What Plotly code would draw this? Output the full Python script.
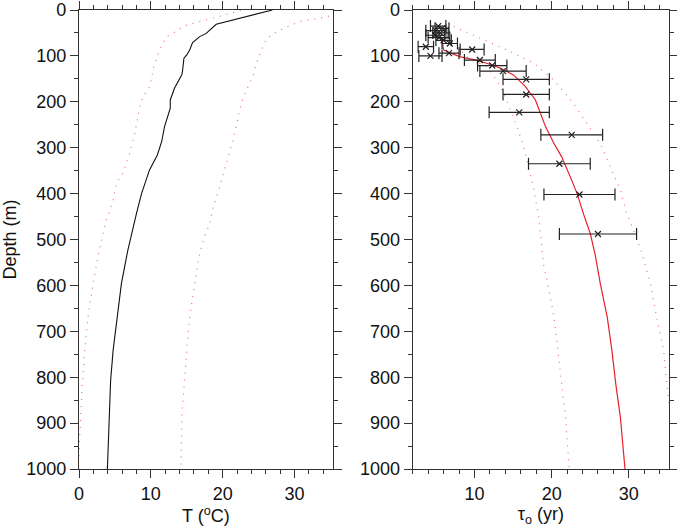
import plotly.graph_objects as go

# ---- Left panel: temperature profile ----
depth_T = [0, 31, 51, 58, 71, 87, 98, 105, 134, 141, 170, 185, 196, 214, 225, 254, 287, 316, 349, 400, 443, 487, 523, 596, 676, 741, 807, 887, 1000]
T_mean = [26.9, 19.1, 17.7, 16.8, 15.8, 15.4, 15.0, 14.6, 14.4, 14.3, 13.3, 12.9, 12.7, 12.7, 12.45, 11.9, 11.5, 10.9, 9.8, 8.7, 8.0, 7.3, 6.8, 5.9, 5.3, 4.75, 4.4, 4.2, 3.95]

depth_TL = [0, 4, 18, 33, 58, 87, 124, 167, 189, 211, 269, 312, 356, 378, 414, 458, 516, 596, 669, 741, 814, 887, 959, 1000]
T_low = [22.5, 21.9, 18.5, 15.0, 12.2, 11.2, 10.4, 9.85, 8.9, 8.45, 7.75, 7.06, 6.1, 5.2, 4.75, 3.8, 2.9, 1.95, 1.25, 0.8, 0.47, 0.2, 0.0, -0.1]

depth_TU = [0, 11, 18, 25, 47, 62, 87, 116, 145, 174, 203, 254, 283, 334, 385, 429, 465, 501, 530, 596, 669, 741, 814, 887, 1000]
T_high = [36.5, 35.4, 33.5, 30.7, 27.5, 26.1, 25.4, 24.7, 24.2, 23.3, 22.6, 21.9, 21.45, 20.5, 19.6, 18.7, 18.2, 17.3, 16.8, 16.1, 15.4, 15.0, 14.6, 14.3, 14.2]

# ---- Right panel: tau_o profile ----
depth_tau = [47, 65, 87, 94, 102, 108, 116, 127, 142, 167, 196, 225, 254, 291, 320, 363, 400, 443, 487, 530, 596, 669, 741, 814, 887, 1000]
tau_fit = [5.3, 5.8, 6.0, 6.9, 8.2, 9.9, 11.6, 13.4, 15.1, 16.6, 17.9, 18.5, 19.2, 20.3, 21.3, 22.4, 23.3, 24.1, 25.0, 25.6, 26.3, 27.2, 27.8, 28.3, 28.9, 29.5]

depth_tauL = [58, 102, 124, 153, 182, 218, 254, 298, 341, 392, 450, 509, 560, 596, 669, 741, 814, 887, 981, 1000]
tau_low = [6.5, 9.05, 11.6, 12.9, 13.8, 14.65, 15.5, 16.4, 17.0, 17.7, 18.3, 18.7, 19.0, 19.5, 20.3, 20.8, 21.3, 21.8, 22.2, 22.3]

depth_tauU = [36, 87, 116, 153, 203, 247, 291, 342, 392, 443, 487, 530, 596, 669, 741, 814, 900, 1000]
tau_high = [7.3, 14.2, 17.7, 20.3, 22.8, 24.6, 26.3, 27.6, 28.9, 29.7, 30.8, 31.7, 32.8, 33.6, 34.5, 34.9, 35.5, 36.0]

obs_depth = [35, 40, 45, 50, 55, 60, 66, 73, 80, 86, 94, 100, 109, 121, 133, 151, 184, 223, 272, 335, 402, 488]
obs_tau = [5.3, 5.8, 5.0, 5.6, 4.9, 5.4, 6.0, 6.8, 3.7, 9.7, 6.7, 4.3, 10.7, 12.3, 13.7, 16.7, 16.7, 15.8, 22.6, 21.0, 23.6, 26.0]
obs_err = [1.0, 0.9, 1.3, 1.0, 1.2, 1.4, 1.0, 1.0, 1.0, 1.55, 1.3, 1.5, 2.0, 1.9, 3.0, 3.0, 3.0, 3.9, 4.0, 4.0, 4.6, 5.0]

x1_ticks = [0, 10, 20, 30]
x2_ticks = [10, 20, 30]
y_ticks = list(range(0, 1001, 100))

DOT = dict(color="rgba(230,80,80,0.8)", width=1.2, dash="1px,6px")
FONT = "Liberation Sans, Arial, sans-serif"
FS = 18

fig = go.Figure()
fig.add_trace(go.Scatter(x=T_low, y=depth_TL, mode="lines", line=DOT, xaxis="x", yaxis="y"))
fig.add_trace(go.Scatter(x=T_high, y=depth_TU, mode="lines", line=DOT, xaxis="x", yaxis="y"))
fig.add_trace(go.Scatter(x=T_mean, y=depth_T, mode="lines", line=dict(color="#111", width=1.1), xaxis="x", yaxis="y"))

fig.add_trace(go.Scatter(x=tau_low, y=depth_tauL, mode="lines", line=DOT, xaxis="x2", yaxis="y2"))
fig.add_trace(go.Scatter(x=tau_high, y=depth_tauU, mode="lines", line=DOT, xaxis="x2", yaxis="y2"))
fig.add_trace(go.Scatter(x=tau_fit, y=depth_tau, mode="lines", line=dict(color="#e8202a", width=1.2), xaxis="x2", yaxis="y2"))
fig.add_trace(go.Scatter(
    x=obs_tau, y=obs_depth, mode="markers",
    marker=dict(symbol="x-thin", size=6, line=dict(color="#222", width=1.2), color="#222"),
    error_x=dict(type="data", array=obs_err, color="#222", thickness=1.2, width=6),
    xaxis="x2", yaxis="y2"))

common_x = dict(showline=True, linecolor="#333", linewidth=1.2, mirror="ticks", ticks="outside",
                ticklen=8, tickwidth=1.2, tickcolor="#333", showgrid=False, zeroline=False, automargin=False,
                minor=dict(dtick=2, ticklen=4, ticks="outside", tickcolor="#333", tickwidth=1.2),
                tickfont=dict(family=FONT, size=FS, color="#111"), title_font=dict(family=FONT, size=FS, color="#111"))
common_y = dict(showline=True, linecolor="#333", linewidth=1.2, mirror="ticks", ticks="outside",
                ticklen=8, tickwidth=1.2, tickcolor="#333", showgrid=False, zeroline=False, automargin=False,
                range=[1000, 0], tickvals=y_ticks,
                minor=dict(dtick=50, ticklen=4, ticks="outside", tickcolor="#333", tickwidth=1.2),
                tickfont=dict(family=FONT, size=FS, color="#111"), title_font=dict(family=FONT, size=FS, color="#111"))

fig.update_layout(
    width=677, height=530, showlegend=False,
    paper_bgcolor="white", plot_bgcolor="white",
    margin=dict(l=79, r=8, t=10, b=61),
    xaxis=dict(common_x, domain=[0, 0.430], range=[0, 35.3], tickvals=x1_ticks,
               title=dict(text="T (<sup>o</sup>C)", standoff=4), anchor="y"),
    yaxis=dict(common_y, domain=[0, 1], anchor="x",
               title=dict(text="Depth (m)", standoff=6)),
    xaxis2=dict(common_x, domain=[0.5656, 1], range=[2, 35.2], tickvals=x2_ticks,
                minor=dict(tick0=0, dtick=2, ticklen=4, ticks="outside", tickcolor="#333", tickwidth=1.2),
                title=dict(text="τ<sub>o</sub> (yr)", standoff=4), anchor="y2"),
    yaxis2=dict(common_y, domain=[0, 1], anchor="x2"),
)

fig.write_html("out.html", config={"displayModeBar": False},
               post_script="document.body.style.margin='0';document.body.style.overflow='hidden';")
